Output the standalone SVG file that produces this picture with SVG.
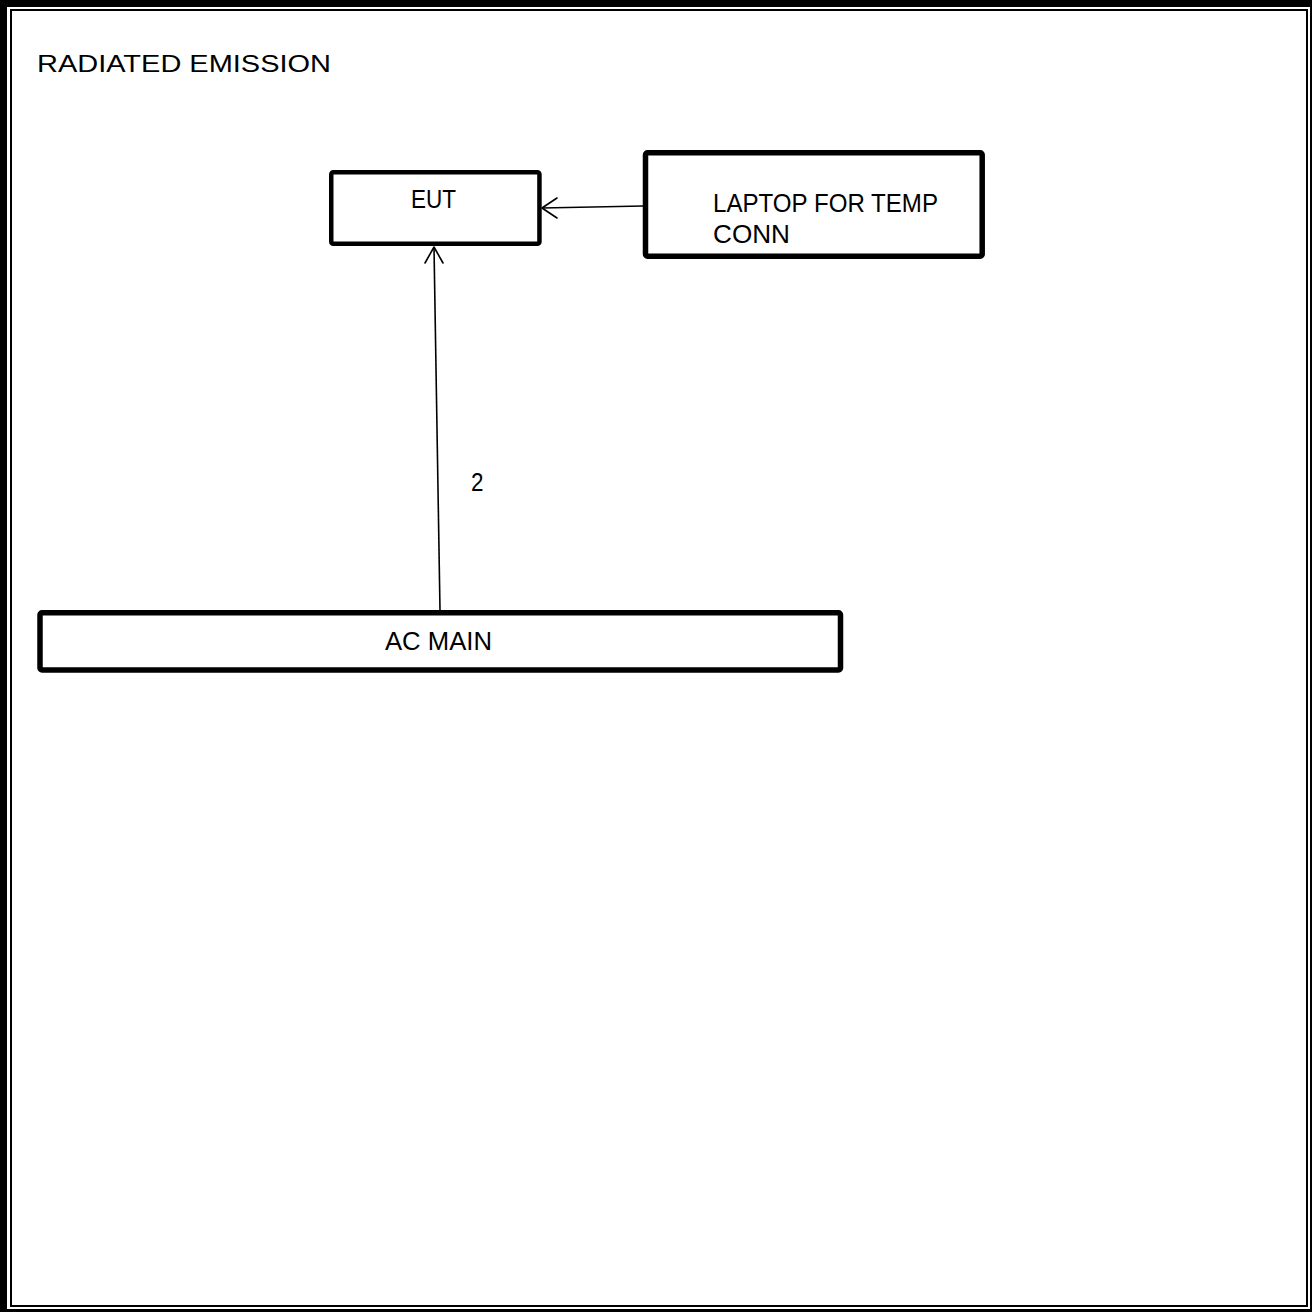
<svg xmlns="http://www.w3.org/2000/svg" width="1312" height="1312" viewBox="0 0 1312 1312">
<style>
.box{fill:#fff;stroke:#000;stroke-linejoin:round}
.lbl{font-family:"Liberation Sans",Arial,sans-serif;font-size:25px;fill:#000}
.ttl{font-family:"Liberation Sans",Arial,sans-serif;font-size:24.5px;fill:#000}
.conn{stroke:#000;stroke-width:1.6;fill:none}
.head{stroke:#000;stroke-width:1.6;fill:none;stroke-linecap:round;stroke-linejoin:round}
</style>
<rect width="1312" height="1312" fill="#fff"/>
<g id="frame">
<path d="M0 0H1312V1312H0Z M7 7V1309H1310V7Z" fill="#000" fill-rule="evenodd"/>
<rect x="11" y="10" width="1296" height="1296" fill="none" stroke="#000" stroke-width="2"/>
</g>
<g id="title">
<text class="ttl" x="37" y="72" textLength="294" lengthAdjust="spacingAndGlyphs">RADIATED EMISSION</text>
</g>
<g id="connectors">
<line class="conn" x1="440" y1="610" x2="434" y2="247"/>
<path class="head" d="M425 263L434 247L443 263"/>
<line class="conn" x1="643" y1="206" x2="542" y2="208"/>
<path class="head" d="M557 198L542 208L557 218"/>
<text class="lbl" x="471" y="491" textLength="12.5" lengthAdjust="spacingAndGlyphs">2</text>
</g>
<g id="eut">
<rect class="box" x="331.25" y="172.25" width="208.2" height="71.5" rx="2" stroke-width="4.5"/>
<text class="lbl" x="411" y="208" textLength="45" lengthAdjust="spacingAndGlyphs">EUT</text>
</g>
<g id="laptop">
<rect class="box" x="645.5" y="152.75" width="336.7" height="103.5" rx="2" stroke-width="5.5"/>
<text class="lbl" x="713" y="212" textLength="225" lengthAdjust="spacingAndGlyphs">LAPTOP FOR TEMP</text>
<text class="lbl" x="713" y="243" textLength="77" lengthAdjust="spacingAndGlyphs">CONN</text>
</g>
<g id="acmain">
<rect class="box" x="40" y="612.75" width="800.5" height="57.2" rx="2" stroke-width="5.5"/>
<text class="lbl" x="385" y="650" textLength="107" lengthAdjust="spacingAndGlyphs">AC MAIN</text>
</g>
</svg>
